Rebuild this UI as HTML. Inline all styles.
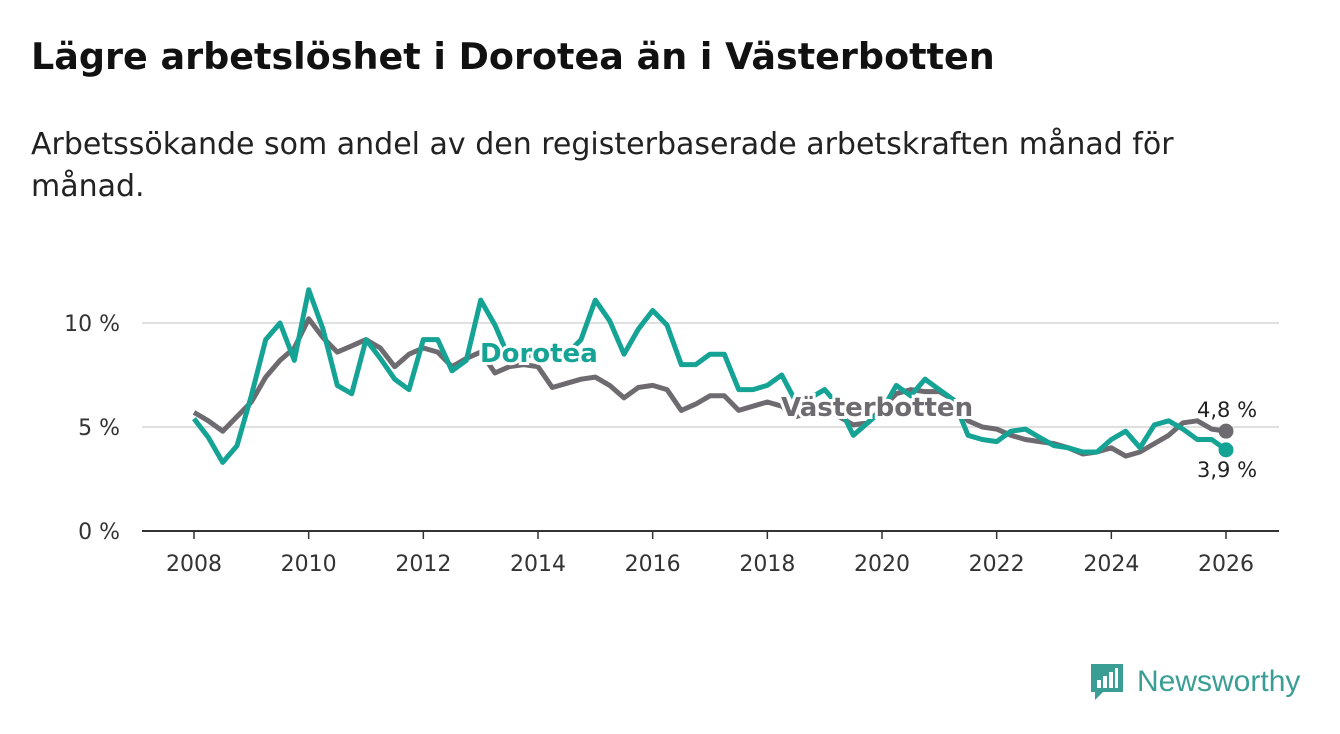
<!DOCTYPE html>
<html><head><meta charset="utf-8"><style>
body{margin:0;width:1340px;height:734px;background:#fff;font-family:"DejaVu Sans","Liberation Sans",sans-serif;overflow:hidden;position:relative}
h1{position:absolute;left:31px;top:35px;margin:0;font-size:36.5px;font-weight:bold;color:#111;white-space:nowrap}
.sub{position:absolute;left:31px;top:124px;width:1190px;font-size:30px;line-height:42px;color:#222}
svg{position:absolute;left:0;top:0}
</style></head><body>
<h1>Lägre arbetslöshet i Dorotea än i Västerbotten</h1>
<div class="sub">Arbetssökande som andel av den registerbaserade arbetskraften månad för månad.</div>
<svg id="chart" width="1340" height="734"></svg>
<script>
const dorotea=[5.4,4.5,3.3,4.1,6.5,9.2,10.0,8.2,11.6,9.7,7.0,6.6,9.2,8.3,7.3,6.8,9.2,9.2,7.7,8.2,11.1,9.9,8.3,8.4,8.5,8.6,8.5,9.2,11.1,10.1,8.5,9.7,10.6,9.9,8.0,8.0,8.5,8.5,6.8,6.8,7.0,7.5,6.2,6.4,6.8,6.0,4.6,5.2,5.8,7.0,6.5,7.3,6.8,6.3,4.6,4.4,4.3,4.8,4.9,4.5,4.1,4.0,3.8,3.8,4.4,4.8,4.0,5.1,5.3,4.9,4.4,4.4,3.9];
const vasterbotten=[5.7,5.3,4.8,5.5,6.2,7.4,8.2,8.8,10.2,9.3,8.6,8.9,9.2,8.8,7.9,8.5,8.8,8.6,7.9,8.3,8.6,7.6,7.9,8.0,7.9,6.9,7.1,7.3,7.4,7.0,6.4,6.9,7.0,6.8,5.8,6.1,6.5,6.5,5.8,6.0,6.2,6.0,5.5,5.7,5.9,5.5,5.1,5.2,5.9,6.6,6.8,6.7,6.7,6.3,5.3,5.0,4.9,4.6,4.4,4.3,4.2,4.0,3.7,3.8,4.0,3.6,3.8,4.2,4.6,5.2,5.3,4.9,4.8];
const startYear=2008, stepYears=0.25;
const xTicks=[2008,2010,2012,2014,2016,2018,2020,2022,2024,2026];
const yTicks=[0,5,10];
const yTickLabels=["0 %","5 %","10 %"];
const NS="http://www.w3.org/2000/svg";
const svg=document.getElementById('chart');
const X=y=>194+(y-2008)*(1226-194)/18;
const Y=v=>531-v*20.8;
function mk(t,a){const e=document.createElementNS(NS,t);for(const k in a)e.setAttribute(k,a[k]);svg.appendChild(e);return e;}
yTicks.forEach((v,i)=>{
 if(v>0){const g=mk('line',{x1:142,x2:1279,y1:Y(v),y2:Y(v),stroke:'#d6d6d6','stroke-width':1.5});
 
 }
 const t=mk('text',{x:120,y:Y(v)+8,'text-anchor':'end','font-size':22,fill:'#333'});t.textContent=yTickLabels[i];
 
 
});
const ax=mk('line',{x1:142,x2:1279,y1:Y(0),y2:Y(0),stroke:'#333','stroke-width':2});


xTicks.forEach(yr=>{
 const tk=mk('line',{x1:X(yr),x2:X(yr),y1:Y(0),y2:Y(0)+8,stroke:'#333','stroke-width':1.5});
 
 
 const t=mk('text',{x:X(yr),y:571,'text-anchor':'middle','font-size':22,fill:'#333'});t.textContent=yr;
 
 
});
function line(arr,col,name){
 const d=arr.map((v,i)=>(i?'L':'M')+X(startYear+i*stepYears).toFixed(1)+','+Y(v).toFixed(1)).join('');
 const p=mk('path',{d:d,fill:'none',stroke:col,'stroke-width':5,'stroke-linejoin':'round'});
 
 
 const n=arr.length-1;
 const c=mk('circle',{cx:X(startYear+n*stepYears),cy:Y(arr[n]),r:7.5,fill:col});
 
 
}
line(vasterbotten,'#6e6b70','vasterbotten-line');
line(dorotea,'#14a394','dorotea-line');
function lab(txt,x,y,col,name,w){
 const t=mk('text',{x:x,y:y,'font-size':w?26:21,'font-weight':w?'bold':'normal',fill:col,stroke:'#fff','stroke-width':w?6:0,'paint-order':'stroke'});t.textContent=txt;
 
 
}
lab('Dorotea',480,362,'#14a394','dorotea-label',true);
lab('Västerbotten',781,416,'#6e6b70','vasterbotten-label',true);
lab('4,8 %',1197,417,'#222','vasterbotten-end-value',false);
lab('3,9 %',1197,477,'#222','dorotea-end-value',false);
</script>
<div style="position:absolute;left:1089px;top:662px;display:flex;align-items:center">
<svg width="36" height="40" style="position:static"><path d="M2 2h32v28H14l-8 8v-8H2z" fill="#3a9e94"/><rect x="8" y="18" width="4" height="8" fill="#fff"/><rect x="14" y="14" width="4" height="12" fill="#fff"/><rect x="20" y="10" width="4" height="16" fill="#fff"/><rect x="26" y="6" width="3" height="20" fill="#fff"/></svg>
<span style="font-family:'Liberation Sans',sans-serif;font-size:30px;color:#3a9e94;margin-left:12px">Newsworthy</span></div>
</body></html>
